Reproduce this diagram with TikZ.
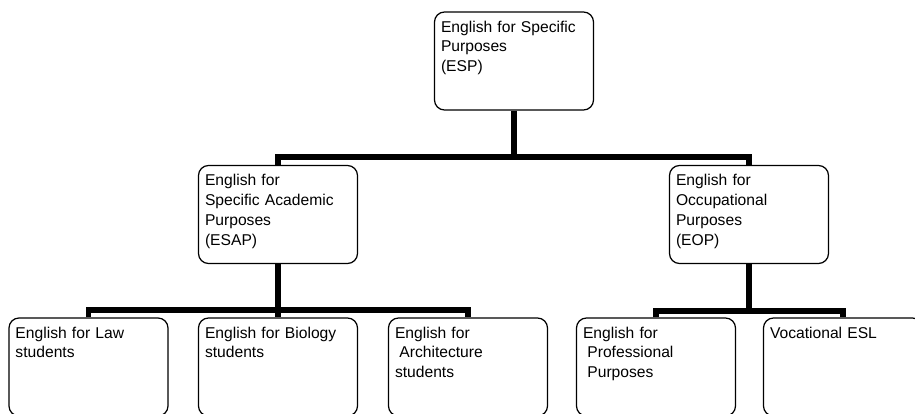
\documentclass[tikz,border=0pt]{standalone}
\usepackage{fontspec}
\setmainfont{Liberation Sans}
\usepackage{tikz}
\newcommand{\gap}{\hspace*{0.28em}}
\tikzstyle{topic}=[draw, fill=white, rounded corners=2mm, line width=0.7pt, align=left, inner xsep=1.3mm, inner ysep=0pt, text width=29.2mm, text height=4mm, text depth=15.6mm, font=\fontsize{8.9}{11.3}\selectfont]
\tikzstyle{link}=[line width=3.2pt]

\begin{document}
\begin{tikzpicture}[x=0.2mm, y=0.2mm]
                \useasboundingbox (0,0) rectangle (915,-413);
                \clip (0,0) rectangle (915,-413);
                \node[topic] (esp) at (514, -61) {English for Specific\\Purposes\\(ESP)};
                \node[topic] (esap) at (278, -214.5) {English for\\Specific Academic\\Purposes\\(ESAP)};
                \node[topic] (eop) at (749, -214.5) {English for\\Occupational\\Purposes\\(EOP)};
                \node[topic] (law) at (88.5, -367) {English for Law\\students};
                \node[topic] (bio) at (278, -367) {English for Biology\\students};
                \node[topic] (arch) at (468, -367) {English for\\\gap Architecture\\students};
                \node[topic] (prof) at (656, -367) {English for\\\gap Professional\\\gap Purposes};
                \node[topic] (voc) at (843, -367) {Vocational ESL};
                \coordinate (top) at (514, -157);
                \coordinate (left) at (278, -310);
                \coordinate (right) at (749, -311);
                \draw[link] (esp.south)--(top);
                \draw[link] (esap.north) |- (top) -| (eop.north);
                \draw[link] (esap.south)--(bio.north);
                \draw[link] (law.north) |- (left) -| (arch.north);
                \draw[link] (eop.south)--(right);
                \draw[link] (prof.north) |- (right) -| (voc.north);
            \end{tikzpicture}
\end{document}
